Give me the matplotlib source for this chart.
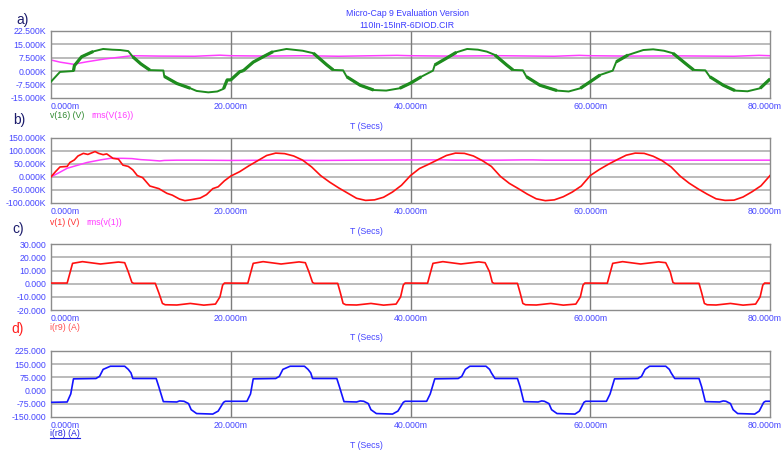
import matplotlib
matplotlib.use("Agg")
from matplotlib import pyplot as plt
from matplotlib.lines import Line2D
from matplotlib.transforms import offset_copy

plt.rcParams['font.family'] = ['Liberation Sans', 'DejaVu Sans']

# time axis in ms (0 .. 80m)
X_TICKS = [0, 20, 40, 60, 80]
X_LABELS = ["0.000m", "20.000m", "40.000m", "60.000m", "80.000m"]

# ---- a) v(16) and rms(V(16)), in K
T_V16 = [0, 1, 2.5, 2.6, 3.4, 4.7, 5.8, 6.8, 7.7, 8.6, 9.1, 10, 11, 12.5, 12.6, 14, 15.5, 16.2, 17.5, 18.5, 19.2, 19.6,
         20, 21, 21.4, 22.5, 23.6, 24.7, 26.2, 28, 29.2, 30.7, 31.4, 32.5, 32.9, 34.4, 35.9, 37.3, 38.8,
         40, 41.2, 42.5, 42.7, 44, 45.1, 46.3, 47.5, 48.5, 49.4, 50.7, 51.4, 52.5, 52.9, 54.4, 56.3, 57.6, 58.9,
         60, 61.1, 62.5, 62.9, 64.2, 65.9, 67, 68.2, 69.2, 70.8, 71.5, 72.8, 73.3, 74.8, 76.1, 77.5, 78.9, 80]
V_V16 = [-6, -0.5, 0, 3, 8, 11, 12.4, 12, 11.8, 11.2, 8, 4, 0.5, 0.3, -3, -7, -9.7, -11.2, -12, -11.5, -10, -5,
         -5, -0.4, 0.2, 5, 8, 10.9, 12.4, 11.4, 10, 3.4, 0.6, 0.4, -3.2, -8, -10.7, -11, -9.7,
         -6.8, -3.2, 0.2, 3.4, 7.2, 10.5, 12.4, 12, 10.9, 9, 3.4, 0.6, 0.4, -3.2, -8, -11, -11.5, -9.7,
         -6, -2.2, 0.2, 5.2, 9, 11.8, 12.2, 11.4, 10, 3.4, 0.6, 0.4, -3.2, -8, -11, -11.4, -9.7, -4.5]
T_RMS16 = [0, 1, 2.5, 4, 6, 8, 9, 12, 16, 18.8, 20, 24, 28, 32, 38.5, 40, 44, 50, 56, 58.8, 60, 64, 70, 76, 78.8, 80]
V_RMS16 = [6.2, 5.0, 3.8, 5.2, 6.8, 8.0, 8.6, 8.4, 8.3, 8.9, 8.6, 8.4, 8.6, 8.3, 8.8, 8.6, 8.4, 8.6, 8.3, 8.8,
           8.6, 8.4, 8.5, 8.3, 8.8, 8.6]
A_YTICKS = [-15, -7.5, 0, 7.5, 15, 22.5]
A_YLABELS = ["-15.000K", "-7.500K", "0.000K", "7.500K", "15.000K", "22.500K"]
# stretches where the v(16) trace is a thick noisy band (ms)
V16_NOISY = [(2.5, 4.7), (9.1, 11), (12.6, 15.5), (19.2, 21.4), (21.4, 24.7), (29.2, 31.4), (32.9, 35.9),
             (38.8, 41.2), (42.7, 45.1), (49.4, 51.4), (52.9, 56.3), (58.9, 61.1), (62.9, 64.2),
             (69.2, 71.5), (73.3, 76.1), (78.9, 80)]

# ---- b) v(1) and rms(v(1)), in K
T_V1 = [0, 0.5, 1, 1.8, 2.1, 2.6, 3, 3.6, 4.1, 4.9, 5.3, 5.8, 6.2, 6.9, 7.5, 8, 8.6, 9.1, 9.6, 10.2, 11, 12,
        12.9, 13.5, 14.3, 14.9, 15.5, 16.6, 17.3, 18, 18.6, 19.3,
        20, 21, 22, 23, 24, 25, 26, 27, 28, 29, 30, 31, 32, 33, 34, 35, 36, 37, 38, 39,
        40, 41, 42, 43, 44, 45, 46, 47, 48, 49, 50, 51, 52, 53, 54, 55, 56, 57, 58, 59,
        60, 61, 62, 63, 64, 65, 66, 67, 68, 69, 70, 71, 72, 73, 74, 75, 76, 77, 78, 79, 80]
V_V1 = [0, 20, 38, 40, 55, 65, 80, 90, 86, 97, 90, 85, 88, 71, 68, 45, 40, 27, 5, -3, -35, -45,
        -63, -70, -85, -91, -88, -81, -68, -45, -38, -15,
        3, 20, 42, 62, 82, 91, 89, 80, 64, 38, 5, -20, -42, -62, -82, -90, -88, -78, -58, -32,
        5, 32, 48, 65, 82, 91, 90, 80, 62, 40, 2, -25, -45, -66, -84, -91, -88, -76, -58, -35,
        5, 28, 48, 66, 83, 91, 90, 79, 62, 38, 3, -24, -46, -66, -84, -90, -89, -77, -57, -34, 5]
T_RMS1 = [0, 1, 1.8, 3, 4, 5.5, 6.6, 8, 9, 10, 11, 12.1, 12.6, 14, 16, 20, 25, 30, 35, 41.6,
          43.6, 45, 50, 52.4, 53.6, 55, 60, 65, 70, 75, 80]
V_RMS1 = [0, 18, 33, 45, 55, 65, 71, 71, 70, 66, 64, 61, 63, 64, 64, 63, 64, 63, 64, 65,
          65, 64, 64, 65, 65, 64, 64, 64, 64, 64, 64]
B_YTICKS = [-100, -50, 0, 50, 100, 150]
B_YLABELS = ["-100.000K", "-50.000K", "0.000K", "50.000K", "100.000K", "150.000K"]

# ---- c) i(r9), in A
T_R9 = [0, 1.8, 2.1, 2.4, 3.5, 5.5, 7.5, 8.2, 8.6, 9.0, 9.2, 11.6, 12.0, 12.4, 12.7, 14, 15.5, 17, 18.3, 18.8, 19.1, 19.3,
        21.9, 22.2, 22.5, 23.6, 25.6, 27.6, 28.3, 28.7, 29.1, 29.3, 31.9, 32.2, 32.5, 32.8, 34, 35.6, 37, 38.4, 38.9, 39.2, 39.4,
        41.9, 42.2, 42.5, 43.6, 45.6, 47.6, 48.3, 48.8, 49.1, 49.3, 51.9, 52.2, 52.5, 52.8, 54, 55.6, 57, 58.4, 58.9, 59.2, 59.4,
        61.9, 62.2, 62.5, 63.6, 65.6, 67.6, 68.4, 68.9, 69.2, 69.4, 72.1, 72.4, 72.7, 73, 74, 75.6, 77, 78.4, 78.9, 79.2, 79.4, 80]
V_R9 = [0.5, 0.5, 8, 15.5, 16.8, 15, 16.5, 16, 9, 1, 0.3, 0.3, -7, -15, -16, -16.2, -15, -16.3, -15.5, -10, -1, 0.5,
        0.4, 8, 15.5, 16.8, 15, 16.6, 16, 9, 1, 0.3, 0.3, -7, -15, -16, -16.2, -15, -16.3, -15.5, -10, -1, 0.5,
        0.4, 8, 15.5, 16.8, 15, 16.6, 16, 9, 1, 0.3, 0.3, -7, -15, -16, -16.2, -15, -16.3, -15.5, -10, -1, 0.5,
        0.4, 8, 15.5, 16.8, 15, 16.6, 16, 9, 1, 0.3, 0.3, -7, -15, -16, -16.2, -15, -16.3, -15.5, -10, -1, 0.5, 0.4]
C_YTICKS = [-20, -10, 0, 10, 20, 30]
C_YLABELS = ["-20.000", "-10.000", "0.000", "10.000", "20.000", "30.000"]

# ---- d) i(r8), in A
T_R8 = [0, 1.8, 2.2, 2.5, 5.0, 5.4, 5.8, 6.6, 8.2, 8.6, 8.9, 9.1, 11.7, 12.0, 12.5, 14.0, 14.3, 14.8, 15.3, 15.6, 16.2, 18.0, 18.6, 19.2, 19.4,
        21.8, 22.2, 22.5, 25.0, 25.4, 25.8, 26.6, 28.2, 28.6, 28.9, 29.1, 31.8, 32.1, 32.6, 34.0, 34.4, 34.8, 35.3, 35.6, 36.2, 38.0, 38.6, 39.2, 39.4,
        41.8, 42.2, 42.7, 45.3, 45.7, 46.1, 46.6, 48.4, 48.8, 49.0, 49.4, 51.9, 52.2, 52.6, 54.2, 54.6, 54.9, 55.4, 55.7, 56.3, 58.3, 58.8, 59.3, 59.5,
        61.8, 62.2, 62.7, 65.3, 65.7, 66.1, 66.6, 68.4, 68.8, 69.0, 69.4, 72.1, 72.4, 72.8, 74.4, 74.8, 75.1, 75.6, 75.9, 76.4, 78.3, 78.8, 79.3, 79.5, 80]
V_R8 = [-68, -66, -20, 66, 68, 80, 120, 138, 138, 120, 100, 68, 68, 20, -64, -66, -60, -62, -75, -110, -132, -135, -118, -68, -62,
        -62, -20, 66, 68, 80, 120, 138, 138, 120, 100, 68, 68, 20, -64, -66, -60, -62, -75, -110, -132, -135, -118, -68, -62,
        -62, -20, 66, 68, 80, 120, 138, 138, 120, 100, 68, 68, 20, -64, -66, -60, -62, -75, -110, -132, -135, -118, -68, -62,
        -62, -20, 66, 68, 80, 120, 138, 138, 120, 100, 68, 68, 20, -64, -66, -60, -62, -75, -110, -132, -135, -118, -68, -62, -62]
D_YTICKS = [-150, -75, 0, 75, 150, 225]
D_YLABELS = ["-150.000", "-75.000", "0.000", "75.000", "150.000", "225.000"]

W, H = 783, 450
TICK_COLOR = "#4646ff"
GREEN = "#1e8c1e"
MAGENTA = "#ff3cff"
RED = "#ff1010"
BLUE = "#1414ff"


def fig_text(fig, x, y, s, **kw):
    """text placed in pixel coords of the picture"""
    kw.setdefault("fontsize", 6.3)
    kw.setdefault("va", "center")
    return fig.text(x / W, 1 - y / H, s, **kw)


def make_panel(fig, top, bottom, yticks, ylabels):
    ax = fig.add_axes([51 / W, 1 - bottom / H, 719 / W, (bottom - top) / H])
    ax.set_xlim(0, 80)
    ax.set_ylim(yticks[0], yticks[-1])
    ax.set_yticks(yticks)
    ax.set_yticklabels(ylabels)
    ax.set_xticks(X_TICKS)
    ax.set_xticklabels(X_LABELS)
    ax.tick_params(length=0, labelsize=6.3, labelcolor=TICK_COLOR, pad=3.5)
    ax.tick_params(axis="x", pad=3)
    labels = ax.get_xticklabels()
    labels[0].set_ha("left")
    # the last label sits at the right edge of the picture
    labels[-1].set_ha("right")
    labels[-1].set_transform(offset_copy(labels[-1].get_transform(), fig=fig, x=12, units="dots"))
    for y in yticks[1:-1]:
        ax.axhline(y, color="#a8a8a8", lw=1.1, zorder=1)
    for x in X_TICKS[1:-1]:
        ax.axvline(x, color="#7c7c7c", lw=1.0, zorder=1)
    for sp in ax.spines.values():
        sp.set_color("#8c8c8c")
        sp.set_linewidth(1.0)
    return ax


def main():
    fig = plt.figure(figsize=(W / 100, H / 100), dpi=100)

    fig_text(fig, 407, 14, "Micro-Cap 9 Evaluation Version", color="#3c3cff", ha="center")
    fig_text(fig, 407, 25, "110In-15InR-6DIOD.CIR", color="#3c3cff", ha="center")

    # a)
    ax = make_panel(fig, 31, 97.7, A_YTICKS, A_YLABELS)
    ax.plot(T_V16, V_V16, color=GREEN, lw=1.4, zorder=3)
    # thicker, noisy looking parts of the trace
    for t0, t1 in V16_NOISY:
        seg = [(t, v) for t, v in zip(T_V16, V_V16) if t0 <= t <= t1]
        ax.plot([p[0] for p in seg], [p[1] for p in seg], color=GREEN, lw=2.3,
                solid_capstyle="butt", zorder=3)
    ax.plot(T_RMS16, V_RMS16, color=MAGENTA, lw=1.1, zorder=2)
    fig_text(fig, 16, 20, "a)", fontsize=10, color="#1c1c6c")
    fig_text(fig, 50, 115, "v(16) (V)", color="#2f8a2f")
    fig_text(fig, 91, 115, "rms(V(16))", color=MAGENTA)
    fig_text(fig, 366, 127, "T (Secs)", color=TICK_COLOR, ha="center")

    # b)
    ax = make_panel(fig, 137.7, 203, B_YTICKS, B_YLABELS)
    ax.plot(T_V1, V_V1, color=RED, lw=1.2, zorder=3)
    ax.plot(T_RMS1, V_RMS1, color=MAGENTA, lw=1.1, zorder=2)
    fig_text(fig, 13, 120, "b)", fontsize=10, color="#1c1c6c")
    fig_text(fig, 50, 222, "v(1) (V)", color="#ff3030")
    fig_text(fig, 86, 222, "rms(v(1))", color=MAGENTA)
    fig_text(fig, 366, 232, "T (Secs)", color=TICK_COLOR, ha="center")

    # c)
    ax = make_panel(fig, 244.3, 310, C_YTICKS, C_YLABELS)
    ax.plot(T_R9, V_R9, color=RED, lw=1.2, zorder=3)
    fig_text(fig, 12.5, 229, "c)", fontsize=10, color="#1c1c6c")
    fig_text(fig, 50, 327, "i(r9) (A)", color="#ff5050")
    fig_text(fig, 366, 338, "T (Secs)", color=TICK_COLOR, ha="center")

    # d)
    ax = make_panel(fig, 351, 416.7, D_YTICKS, D_YLABELS)
    ax.plot(T_R8, V_R8, color=BLUE, lw=1.2, zorder=3)
    fig_text(fig, 11.5, 329, "d)", fontsize=10, color="#ff2020")
    fig_text(fig, 50, 433, "i(r8) (A)", color="#2020e0")
    fig.lines.append(Line2D([50 / W, 79.5 / W], [1 - 437.5 / H, 1 - 437.5 / H],
                            transform=fig.transFigure, color="#2020e0", lw=0.8))
    fig_text(fig, 366, 445, "T (Secs)", color=TICK_COLOR, ha="center")

    fig.savefig("out.png", dpi=100)


if __name__ == "__main__":
    main()
